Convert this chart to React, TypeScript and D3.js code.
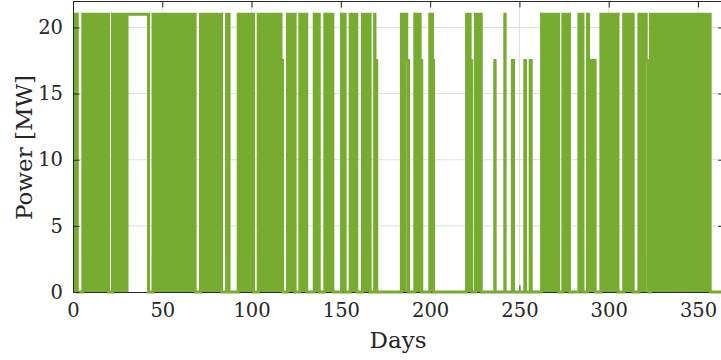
import { useEffect, useRef } from "react";
import * as d3 from "d3";

// on-periods (days) where the plant cycles densely, with the cycling level in MW
const onStart = [
  0, 5.5, 22.1, 42.1, 44.8, 71.4, 86.0, 92.5, 103.7, 116.5, 120.1, 127.0, 135.1, 141.0, 150.4,
  155.2, 162.1, 168.9, 169.1, 183.9, 186.9, 191.4, 194.4, 199.8, 201.3, 220.4, 222.4, 225.4,
  236.2, 241.8, 246.0, 253.0, 256.0, 262.4, 274.3, 283.3, 288.1, 288.7, 295.6, 308.4, 316.9,
  321.0, 323.4,
];
const onEnd = [
  2.4, 19.9, 31.1, 42.3, 68.4, 83.2, 87.4, 101.1, 116.5, 117.3, 124.4, 130.9, 137.9, 145.5, 152.4,
  158.9, 166.4, 169.1, 170.1, 186.9, 187.9, 194.4, 195.3, 201.3, 201.9, 222.4, 223.3, 228.6,
  236.4, 242.0, 246.7, 253.4, 256.6, 271.9, 278.0, 285.6, 288.7, 292.4, 305.2, 313.7, 321.0,
  322.6, 356.8,
];
const onLevel = [
  21, 21, 21, 21, 21, 21, 21, 21, 21, 17.5, 21, 21, 21, 21, 21,
  21, 21, 21, 17.5, 21, 17.5, 21, 17.5, 21, 17.5, 21, 17.5, 21,
  17.5, 21, 17.5, 17.5, 17.5, 21, 21, 21, 21, 17.5, 21, 21, 21,
  17.5, 21,
];

// period where output is held constant
const holdStart = [31.1];
const holdEnd = [42.1];
const holdLevel = [21];

const xTicks = [0, 50, 100, 150, 200, 250, 300, 350];
const yTicks = [0, 5, 10, 15, 20];

const green = "#77AC30";
const ink = "#262626";
const font = "DejaVu Serif";

function App() {
  const svgRef = useRef(null);

  useEffect(() => {
    const svg = d3.select(svgRef.current);
    svg.selectAll("*").remove();

    const x = d3.scaleLinear().domain([0, 365]).range([73, 724.8]);
    const y = d3.scaleLinear().domain([0, 22]).range([292, 1]);

    // grid
    const grid = svg.append("g").attr("stroke", "#dfdfdf").attr("stroke-width", 1);
    grid
      .selectAll("line.gx")
      .data(xTicks.slice(1))
      .enter()
      .append("line")
      .attr("x1", (d) => x(d))
      .attr("x2", (d) => x(d))
      .attr("y1", y(22))
      .attr("y2", y(0));
    grid
      .selectAll("line.gy")
      .data(yTicks.slice(1))
      .enter()
      .append("line")
      .attr("x1", x(0))
      .attr("x2", x(365))
      .attr("y1", (d) => y(d))
      .attr("y2", (d) => y(d));

    const styleAxis = (g) => {
      g.select(".domain").attr("stroke", ink);
      g.selectAll(".tick line").attr("stroke", ink);
      g.selectAll("text")
        .attr("fill", ink)
        .style("font-family", font)
        .style("font-size", "19.5px");
    };

    svg
      .append("g")
      .attr("transform", "translate(0," + y(0) + ")")
      .call(d3.axisBottom(x).tickValues(xTicks).tickSizeInner(-6.5).tickSizeOuter(0).tickPadding(11))
      .call(styleAxis);
    svg
      .append("g")
      .attr("transform", "translate(0," + y(22) + ")")
      .call(d3.axisTop(x).tickValues(xTicks).tickSizeInner(-6.5).tickSizeOuter(0).tickFormat(() => ""))
      .call(styleAxis);
    svg
      .append("g")
      .attr("transform", "translate(" + x(365) + ",0)")
      .call(d3.axisRight(y).tickValues(yTicks).tickSizeInner(-6.5).tickSizeOuter(0).tickFormat(() => ""))
      .call(styleAxis);

    // data
    svg
      .append("clipPath")
      .attr("id", "plotclip")
      .append("rect")
      .attr("x", x(0) + 1)
      .attr("y", y(22))
      .attr("width", x(365) - x(0))
      .attr("height", y(0) - y(22) + 4);

    const segs = onStart
      .map((s, i) => ({ s, e: onEnd[i], v: onLevel[i], dense: true }))
      .concat(holdStart.map((s, i) => ({ s, e: holdEnd[i], v: holdLevel[i], dense: false })))
      .sort((a, b) => a.s - b.s);

    const pts: [number, number][] = [];
    if (segs[0].s > 0) pts.push([0, 0]);
    segs.forEach((sg, i) => {
      pts.push([sg.s, sg.v]);
      const next = segs[i + 1];
      if (!next || next.s > sg.e + 1e-9) pts.push([sg.e, 0]);
    });
    pts.push([365, 0]);

    const plot = svg.append("g").attr("clip-path", "url(#plotclip)");

    const area = d3
      .area<number>()
      .x((d) => x(d))
      .y0(y(0));
    plot
      .selectAll("path.fill")
      .data(segs.filter((d) => d.dense))
      .enter()
      .append("path")
      .attr("d", (d) => area.y1(y(d.v))([d.s, d.e]))
      .attr("fill", green);

    const line = d3
      .line<[number, number]>()
      .x((d) => x(d[0]))
      .y((d) => y(d[1]))
      .curve(d3.curveStepAfter);
    plot
      .append("path")
      .attr("d", line(pts))
      .attr("fill", "none")
      .attr("stroke", green)
      .attr("stroke-width", 3)
      .attr("stroke-linejoin", "miter");

    // left axis on top
    svg
      .append("g")
      .attr("transform", "translate(" + x(0) + ",0)")
      .call(d3.axisLeft(y).tickValues(yTicks).tickSizeInner(-6.5).tickSizeOuter(0).tickPadding(10))
      .call(styleAxis);

    svg
      .append("text")
      .attr("x", 398)
      .attr("y", 348)
      .attr("text-anchor", "middle")
      .attr("fill", ink)
      .style("font-family", font)
      .style("font-size", "23px")
      .text("Days");

    svg
      .append("text")
      .attr("transform", "translate(32,147.5) rotate(-90)")
      .attr("text-anchor", "middle")
      .attr("fill", ink)
      .style("font-family", font)
      .style("font-size", "23px")
      .text("Power [MW]");
  }, []);

  return (
    <svg
      ref={svgRef}
      width={721}
      height={360}
      style={{ position: "absolute", left: 0, top: 0, background: "#fff" }}
    ></svg>
  );
}

export default App;
